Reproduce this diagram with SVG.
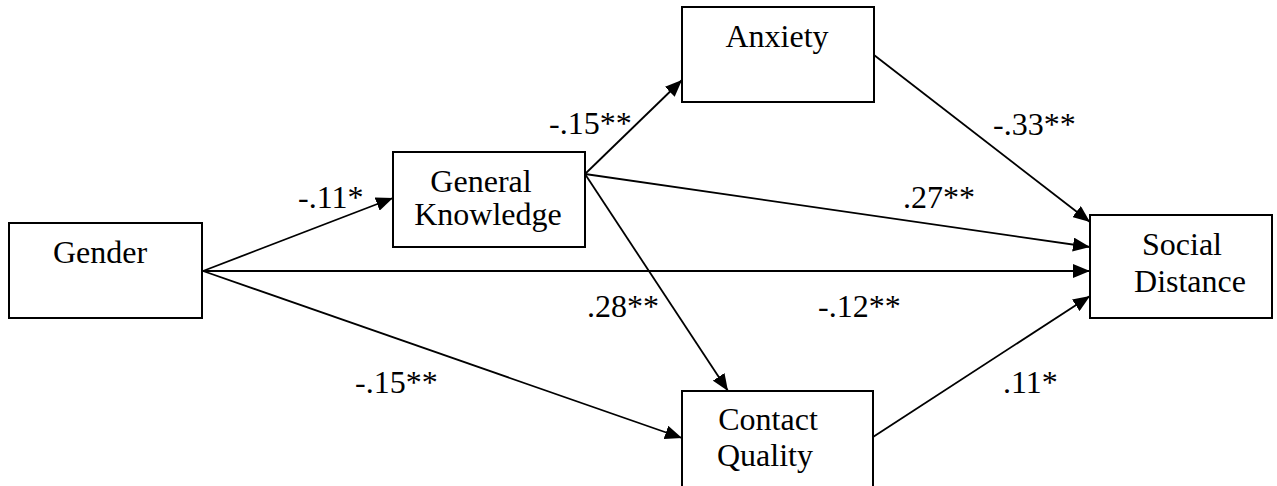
<svg xmlns="http://www.w3.org/2000/svg" width="1277" height="486" viewBox="0 0 1277 486">
  <style>
    .box { fill: #fff; stroke: #000; stroke-width: 2; }
    .edge { stroke: #000; stroke-width: 1.8; fill: none; marker-end: url(#arrow); }
    .mid { text-anchor: middle; }
  </style>
  <defs>
    <marker id="arrow" markerUnits="userSpaceOnUse" markerWidth="18" markerHeight="14" refX="17" refY="7" orient="auto">
      <path d="M0,0 L17,7 L0,14 Z" fill="#000"/>
    </marker>
  </defs>
  <rect width="1277" height="486" fill="#fff"/>

  <g id="connectors">
    <line class="edge" x1="203" y1="271" x2="393" y2="198"/>
    <line class="edge" x1="203" y1="271" x2="1090" y2="271"/>
    <line class="edge" x1="203" y1="271" x2="682" y2="438"/>
    <line class="edge" x1="585" y1="174" x2="682" y2="80"/>
    <line class="edge" x1="585" y1="174" x2="1090" y2="247"/>
    <line class="edge" x1="585" y1="174" x2="728" y2="391"/>
    <line class="edge" x1="874" y1="55" x2="1090" y2="222"/>
    <line class="edge" x1="873" y1="437" x2="1090" y2="296"/>
  </g>

  <g font-family="Liberation Serif, Times New Roman, Times, serif" font-size="32" fill="#000">
    <g id="path-coefficients">
      <text x="298" y="208">-.11*</text>
      <text x="549" y="134">-.15**</text>
      <text x="993" y="135">-.33**</text>
      <text x="903" y="208">.27**</text>
      <text x="587" y="317">.28**</text>
      <text x="818" y="317">-.12**</text>
      <text x="355" y="393">-.15**</text>
      <text x="1003" y="393">.11*</text>
    </g>

    <g id="gender">
      <rect class="box" x="9" y="223" width="193" height="95"/>
      <text class="mid" x="100" y="263">Gender</text>
    </g>
    <g id="general-knowledge">
      <rect class="box" x="393" y="152" width="192" height="95"/>
      <text class="mid" x="481" y="192">General</text>
      <text class="mid" x="488" y="225">Knowledge</text>
    </g>
    <g id="anxiety">
      <rect class="box" x="682" y="7" width="192" height="95"/>
      <text class="mid" x="777" y="47">Anxiety</text>
    </g>
    <g id="social-distance">
      <rect class="box" x="1090" y="215" width="182" height="103"/>
      <text class="mid" x="1182" y="255">Social</text>
      <text class="mid" x="1190" y="292">Distance</text>
    </g>
    <g id="contact-quality">
      <rect class="box" x="682" y="391" width="191" height="100"/>
      <text class="mid" x="768" y="430">Contact</text>
      <text class="mid" x="765" y="466">Quality</text>
    </g>
  </g>
</svg>
